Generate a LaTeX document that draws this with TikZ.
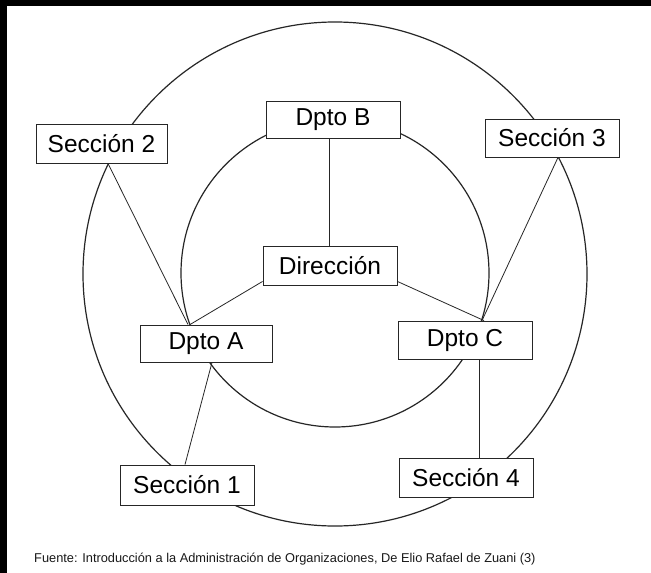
\documentclass[tikz,border=0pt]{standalone}
\usepackage{fontspec}
\setmainfont{Liberation Sans}
\begin{document}
\begin{tikzpicture}[x=1pt,y=-1pt,
  box/.style={draw=black!85, line width=0.9pt, fill=white, inner sep=0pt,
    font=\fontsize{24.5}{28}\selectfont, text=black},
  link/.style={draw=black!85, line width=0.8pt},
  ring/.style={draw=black!85, line width=1.2pt}]
\useasboundingbox (0,0) rectangle (651,573);
\fill[white] (0,0) rectangle (651,573);
\fill[black] (0,0) rectangle (651,6);
\fill[black] (0,0) rectangle (7,573);
% circles
\draw[ring] (335,274) circle[radius=252pt];
\draw[ring] (335,273) circle[radius=154pt];
% nodes
\node[box, minimum width=131pt, minimum height=39pt] (sec2) at (101.5,143.5) {Sección 2};
\node[box, minimum width=134pt, minimum height=37pt] (dptoB) at (333,119.5) {Dpto B};
\node[box, minimum width=134pt, minimum height=38pt] (sec3) at (552,138) {Sección 3};
\node[box, minimum width=134pt, minimum height=39pt] (dir) at (330,265.5) {Dirección};
\node[box, minimum width=132pt, minimum height=37pt] (dptoA) at (206,343.5) {Dpto A};
\node[box, minimum width=134pt, minimum height=38pt] (dptoC) at (465,340) {Dpto C};
\node[box, minimum width=134pt, minimum height=40pt] (sec1) at (187,485) {Sección 1};
\node[box, minimum width=134pt, minimum height=39pt] (sec4) at (466,477.5) {Sección 4};
% connectors
\draw[link] ([xshift=6.5pt]sec2.south) -- ([xshift=-18pt]dptoA.north);
\draw[link] ([yshift=4pt]dir.south west) -- ([xshift=-16pt]dptoA.north);
\draw[link] ([xshift=-4pt]dptoB.south) -- ([xshift=-4pt]dptoB.south |- dir.north);
\draw[link] ([yshift=4pt]dir.south east) -- ([xshift=19pt]dptoC.north);
\draw[link] ([xshift=6pt]sec3.south) -- ([xshift=17pt]dptoC.north);
\draw[link] ([xshift=6pt]dptoA.south) -- ([xshift=-2pt]sec1.north);
\draw[link] ([xshift=14pt]dptoC.south) -- ([xshift=13pt]sec4.north);
% caption
\node[anchor=west, inner sep=0pt, font=\fontsize{12.8}{15}\selectfont, text=black!90] (cap) at (34,559)
  {Fuente: Introducción a la Administración de Organizaciones, De Elio Rafael de Zuani (3)};
\end{tikzpicture}
\end{document}
